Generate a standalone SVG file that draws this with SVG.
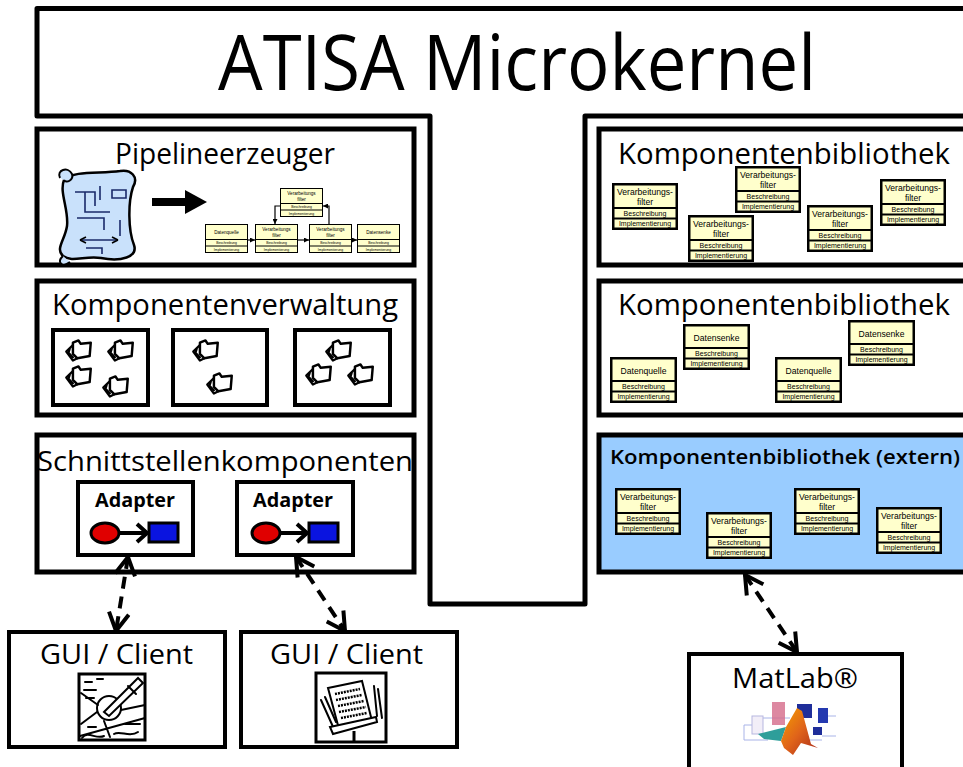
<svg xmlns="http://www.w3.org/2000/svg" xmlns:xlink="http://www.w3.org/1999/xlink" width="963" height="767" viewBox="0 0 963 767">
  <style>
    .frame { fill: none; stroke: #000; stroke-width: 5; stroke-linejoin: round; }
    .box { fill: #fff; stroke: #000; stroke-width: 5; }
    .extern { fill: #99CCFF; stroke: #000; stroke-width: 5; }
    .sub { fill: #fff; stroke: #000; stroke-width: 4; }
    .lbl { font-family: "Open Sans", "Liberation Sans", sans-serif; fill: #000; }
    .bold { font-family: "Open Sans", "Liberation Sans", sans-serif; font-weight: bold; fill: #000; }
    .semi { font-family: "Open Sans", "Liberation Sans", sans-serif; font-weight: 600; fill: #000; }
    .cell { fill: #FFFFCC; }
    .t9 { font-family: "Liberation Sans", Arial, sans-serif; font-size: 8.6px; text-anchor: middle; fill: #000; }
    .t7 { font-family: "Liberation Sans", Arial, sans-serif; font-size: 7px; text-anchor: middle; fill: #000; }
    .t5 { font-family: "Liberation Sans", Arial, sans-serif; font-size: 4.6px; text-anchor: middle; fill: #000; }
    .t4 { font-family: "Liberation Sans", Arial, sans-serif; font-size: 3.4px; text-anchor: middle; fill: #000; }
    .ink { fill: none; stroke: #000; stroke-width: 2; stroke-linecap: round; stroke-linejoin: round; }
    .dash { fill: none; stroke: #000; stroke-width: 4; stroke-dasharray: 12 8; }
    .pline { fill: none; stroke: #000; stroke-width: 1.2; }
  </style>
  <defs>
    <marker id="vhead" viewBox="0 0 24 24" refX="21" refY="12" markerWidth="24" markerHeight="24" markerUnits="userSpaceOnUse" orient="auto-start-reverse">
      <path d="M3,2 L21,12 L3,22" fill="none" stroke="#000" stroke-width="4" stroke-linejoin="miter"/>
    </marker>
    <marker id="mini" viewBox="0 0 6 6" refX="6" refY="3" markerWidth="5" markerHeight="5" markerUnits="userSpaceOnUse" orient="auto">
      <path d="M0,0 L6,3 L0,6 Z" fill="#000"/>
    </marker>
    <!-- processing filter component card -->
    <symbol id="vf" viewBox="0 0 66 47" width="66" height="47" overflow="visible">
      <rect width="66" height="47" fill="#000"/>
      <rect x="2.5" y="2.5" width="61" height="21.5" class="cell"/>
      <rect x="2.5" y="26" width="61" height="8.5" class="cell"/>
      <rect x="2.5" y="36.5" width="61" height="8" class="cell"/>
      <text x="33" y="12" class="t9">Verarbeitungs-</text>
      <text x="33" y="21.5" class="t9">filter</text>
      <text x="33" y="33" class="t7">Beschreibung</text>
      <text x="33" y="43" class="t7">Implementierung</text>
    </symbol>
    <!-- data source card -->
    <symbol id="dq" viewBox="0 0 67 46" width="67" height="46" overflow="visible">
      <rect width="67" height="46" fill="#000"/>
      <rect x="2.5" y="2.5" width="62" height="20.5" class="cell"/>
      <rect x="2.5" y="25" width="62" height="8.5" class="cell"/>
      <rect x="2.5" y="35.5" width="62" height="8" class="cell"/>
      <text x="33.5" y="16.5" class="t9">Datenquelle</text>
      <text x="33.5" y="32" class="t7">Beschreibung</text>
      <text x="33.5" y="42" class="t7">Implementierung</text>
    </symbol>
    <!-- data sink card -->
    <symbol id="ds" viewBox="0 0 67 46" width="67" height="46" overflow="visible">
      <rect width="67" height="46" fill="#000"/>
      <rect x="2.5" y="2.5" width="62" height="20.5" class="cell"/>
      <rect x="2.5" y="25" width="62" height="8.5" class="cell"/>
      <rect x="2.5" y="35.5" width="62" height="8" class="cell"/>
      <text x="33.5" y="16.5" class="t9">Datensenke</text>
      <text x="33.5" y="32" class="t7">Beschreibung</text>
      <text x="33.5" y="42" class="t7">Implementierung</text>
    </symbol>
    <!-- small card frame for the pipeline sketch -->
    <symbol id="pcard" viewBox="0 0 43 29" width="43" height="29" overflow="visible">
      <rect width="43" height="29" fill="#000"/>
      <rect x="1" y="1" width="41" height="14" class="cell"/>
      <rect x="1" y="16" width="41" height="5.5" class="cell"/>
      <rect x="1" y="22.5" width="41" height="5.5" class="cell"/>
      <text x="21.5" y="20" class="t4">Beschreibung</text>
      <text x="21.5" y="26.5" class="t4">Implementierung</text>
    </symbol>
    <!-- component bundle icon -->
    <symbol id="pg" viewBox="0 0 26 22" width="29" height="25" overflow="visible">
      <path d="M8,4 L13,2 L15,5 L24,4 L23,16 L12,18 L8,14 Z" fill="#fff" stroke="#000" stroke-width="2.2" stroke-linejoin="round"/>
      <path d="M8,6 L2,12 L8,20 L12,18" class="ink" stroke-width="2.2"/>
      <path d="M5,10 L4,13 L8,17" class="ink" stroke-width="2.2"/>
    </symbol>
    <linearGradient id="peak" x1="0" y1="0" x2="1" y2="1">
      <stop offset="0" stop-color="#F5A000"/>
      <stop offset="0.5" stop-color="#E0641A"/>
      <stop offset="1" stop-color="#A8281A"/>
    </linearGradient>
  </defs>

  <rect width="963" height="767" fill="#fff"/>

  <!-- microkernel outline -->
  <g id="microkernel">
    <path class="frame" d="M970,8.5 H37 V116 H430 V604 H585 V116 H970"/>
    <text class="lbl" x="218" y="90" font-size="76" textLength="598" lengthAdjust="spacingAndGlyphs">ATISA Microkernel</text>
  </g>

  <!-- pipeline generator -->
  <g id="pipelineerzeuger">
    <rect class="box" x="37" y="129" width="377" height="136"/>
    <text class="lbl" x="115" y="164" font-size="29" textLength="220" lengthAdjust="spacingAndGlyphs">Pipelineerzeuger</text>
    <!-- blueprint scroll -->
    <g>
      <path d="M64,180 C74,170 100,174 120,171 C131,169 139,177 133,187 C128,202 128,230 134,245 C138,257 121,262 101,258 C86,255 72,263 63,256 C55,249 65,240 67,226 C69,210 59,192 64,180 Z" fill="#C9E1FB" stroke="#000" stroke-width="2.5"/>
      <path d="M60,178 C56,170 68,166 72,174 C74,180 66,184 64,180" fill="#C9E1FB" stroke="#000" stroke-width="2"/>
      <path d="M63,256 C56,262 62,268 70,262" fill="#C9E1FB" stroke="#000" stroke-width="2"/>
      <path d="M75,192 H95 V206 M85,192 V212 H110 M100,186 V200 M77,218 H104 V230 M112,190 H126 V198 H112 Z M80,240 H118 M120,220 V236" fill="none" stroke="#1A2A6A" stroke-width="1.6"/>
      <path d="M80,240 L86,237 M80,240 L86,243 M118,240 L112,237 M118,240 L112,243" fill="none" stroke="#000" stroke-width="1.6"/>
      <path d="M86,248 H102 V254" fill="none" stroke="#1A2A6A" stroke-width="1.6"/>
    </g>
    <!-- big arrow -->
    <line x1="152" y1="202" x2="188" y2="202" stroke="#000" stroke-width="8"/>
    <polygon points="185,190 207,202 185,214" fill="#000"/>
    <!-- pipeline sketch -->
    <use href="#pcard" x="280" y="188"/>
    <text class="t5" x="301.5" y="195">Verarbeitungs</text>
    <text class="t5" x="301.5" y="201">filter</text>
    <use href="#pcard" x="205" y="224"/>
    <text class="t5" x="226.5" y="234">Datenquelle</text>
    <use href="#pcard" x="255" y="224"/>
    <text class="t5" x="276.5" y="231">Verarbeitungs</text>
    <text class="t5" x="276.5" y="237">filter</text>
    <use href="#pcard" x="309" y="224"/>
    <text class="t5" x="330.5" y="231">Verarbeitungs</text>
    <text class="t5" x="330.5" y="237">filter</text>
    <use href="#pcard" x="357" y="224"/>
    <text class="t5" x="378.5" y="234">Datensenke</text>
    <line class="pline" x1="247" y1="240" x2="255" y2="240" marker-end="url(#mini)"/>
    <line class="pline" x1="297" y1="240" x2="309" y2="240" marker-end="url(#mini)"/>
    <line class="pline" x1="352" y1="240" x2="357" y2="240" marker-end="url(#mini)"/>
    <path class="pline" d="M329,224 V206 H323" marker-end="url(#mini)"/>
    <path class="pline" d="M280,206 H275 V224" marker-end="url(#mini)"/>
  </g>

  <!-- component management -->
  <g id="komponentenverwaltung">
    <rect class="box" x="37" y="281" width="377" height="134"/>
    <text class="lbl" x="52" y="315" font-size="30" textLength="346" lengthAdjust="spacingAndGlyphs">Komponentenverwaltung</text>
    <rect class="sub" x="53" y="330" width="95" height="75"/>
    <rect class="sub" x="173" y="330" width="94" height="75"/>
    <rect class="sub" x="295" y="330" width="95" height="75"/>
    <use href="#pg" x="64" y="338"/>
    <use href="#pg" x="106" y="338"/>
    <use href="#pg" x="64" y="364"/>
    <use href="#pg" x="101" y="374"/>
    <use href="#pg" x="191" y="338"/>
    <use href="#pg" x="205" y="371"/>
    <use href="#pg" x="324" y="338"/>
    <use href="#pg" x="304" y="362"/>
    <use href="#pg" x="346" y="362"/>
  </g>

  <!-- interface components -->
  <g id="schnittstellenkomponenten">
    <rect class="box" x="37" y="435" width="377" height="137"/>
    <text class="lbl" x="37" y="471" font-size="28" textLength="376" lengthAdjust="spacingAndGlyphs">Schnittstellenkomponenten</text>
  </g>
  <g id="adapter-1">
    <rect class="sub" x="78" y="482" width="115" height="73"/>
    <text class="bold" x="95" y="507" font-size="19" textLength="80" lengthAdjust="spacingAndGlyphs">Adapter</text>
    <ellipse cx="105" cy="533" rx="14" ry="10" fill="#E00000" stroke="#000" stroke-width="3"/>
    <path d="M120,533 H147 M137,524 L147,533 L137,542" fill="none" stroke="#000" stroke-width="4"/>
    <rect x="149" y="523" width="29" height="19" fill="#0A14E0" stroke="#000" stroke-width="3"/>
  </g>
  <g id="adapter-2">
    <rect class="sub" x="237" y="482" width="116" height="73"/>
    <text class="bold" x="253" y="507" font-size="19" textLength="80" lengthAdjust="spacingAndGlyphs">Adapter</text>
    <ellipse cx="266" cy="533" rx="14" ry="10" fill="#E00000" stroke="#000" stroke-width="3"/>
    <path d="M281,533 H307 M297,524 L307,533 L297,542" fill="none" stroke="#000" stroke-width="4"/>
    <rect x="309" y="523" width="29" height="19" fill="#0A14E0" stroke="#000" stroke-width="3"/>
  </g>

  <!-- component library: processing filters -->
  <g id="bibliothek-filter">
    <rect class="box" x="599" y="129" width="380" height="136"/>
    <text class="lbl" x="618" y="164" font-size="30" textLength="332" lengthAdjust="spacingAndGlyphs">Komponentenbibliothek</text>
    <use href="#vf" x="612" y="183"/>
    <use href="#vf" x="735" y="166"/>
    <use href="#vf" x="688" y="215"/>
    <use href="#vf" x="807" y="205"/>
    <use href="#vf" x="880" y="179"/>
  </g>

  <!-- component library: sources and sinks -->
  <g id="bibliothek-daten">
    <rect class="box" x="599" y="281" width="380" height="134"/>
    <text class="lbl" x="618" y="315" font-size="30" textLength="332" lengthAdjust="spacingAndGlyphs">Komponentenbibliothek</text>
    <use href="#dq" x="610" y="357"/>
    <use href="#ds" x="683" y="324"/>
    <use href="#dq" x="775" y="357"/>
    <use href="#ds" x="848" y="320"/>
  </g>

  <!-- external component library -->
  <g id="bibliothek-extern">
    <rect class="extern" x="599" y="435" width="380" height="137"/>
    <text class="semi" x="610" y="464" font-size="20" textLength="350" lengthAdjust="spacingAndGlyphs">Komponentenbibliothek (extern)</text>
    <use href="#vf" x="615" y="488"/>
    <use href="#vf" x="706" y="512"/>
    <use href="#vf" x="794" y="488"/>
    <use href="#vf" x="876" y="507"/>
  </g>

  <!-- clients -->
  <g id="gui-client-1">
    <rect class="sub" x="9" y="632" width="216" height="115"/>
    <text class="lbl" x="40" y="664" font-size="27" textLength="153" lengthAdjust="spacingAndGlyphs">GUI / Client</text>
    <rect x="79" y="674" width="66" height="66" fill="#fff" stroke="#000" stroke-width="3"/>
    <path d="M85,682 H92 M97,679 H103 M84,690 H96 M86,698 H94" class="ink"/>
    <circle cx="109" cy="708" r="12" fill="#fff" stroke="#000" stroke-width="2"/>
    <path d="M81,693 L98,705 M81,724 L97,712 M121,710 L145,705 M80,736 L145,718 M104,721 L110,737" class="ink"/>
    <path d="M104,712 L138,678 L143,683 L109,716 Z" fill="#fff" stroke="#000" stroke-width="2"/>
    <path d="M128,686 L136,694" class="ink"/>
    <path d="M82,738 C88,730 96,740 104,736 M114,734 C120,730 130,738 138,732 M125,724 H140 M88,727 H96" class="ink" stroke-width="3"/>
  </g>
  <g id="gui-client-2">
    <rect class="sub" x="241" y="632" width="216" height="115"/>
    <text class="lbl" x="270" y="664" font-size="27" textLength="153" lengthAdjust="spacingAndGlyphs">GUI / Client</text>
    <rect x="316" y="673" width="70" height="69" fill="#fff" stroke="#000" stroke-width="3"/>
    <path d="M321,700 L334,729 M325,697 L336,722 M378,689 L382,718 M374,686 L377,716" class="ink" stroke-width="1.5"/>
    <polygon points="328,688 362,681 372,721 339,729" fill="#fff" stroke="#000" stroke-width="2"/>
    <path d="M335,694 L360,689 M336,700 L362,695 M338,706 L364,701 M339,712 L366,707 M341,718 L367,713" stroke="#000" stroke-width="2.5" stroke-dasharray="2 1"/>
    <polygon points="330,727 376,717 377,722 333,734" fill="#fff" stroke="#000" stroke-width="2"/>
    <path d="M354,731 V742" stroke="#000" stroke-width="3"/>
  </g>
  <g id="matlab">
    <rect class="sub" x="689" y="654" width="213" height="125"/>
    <text class="lbl" x="732" y="688" font-size="28" textLength="126" lengthAdjust="spacingAndGlyphs">MatLab®</text>
    <path d="M752,725 H744 V740 H768 M762,718 H790 M828,716 H836 M822,736 H836 M806,740 H822" fill="none" stroke="#A9B4E8" stroke-width="1"/>
    <rect x="752" y="716" width="11" height="18" fill="#F2EEF8" stroke="#B7B7E0" stroke-width="1"/>
    <rect x="772" y="702" width="13" height="23" fill="#D46A8A" opacity="0.8"/>
    <rect x="797" y="704" width="15" height="14" fill="#1F2E9A"/>
    <rect x="818" y="708" width="10" height="15" fill="#2439B0"/>
    <rect x="813" y="727" width="9" height="8" fill="#1F2E9A"/>
    <polygon points="758,734 786,727 781,741 764,739" fill="#2E9E9A"/>
    <polygon points="781,741 786,727 797,708 802,711 811,744 818,748 801,743 793,755 784,748" fill="url(#peak)"/>
  </g>

  <!-- connectors -->
  <g id="connectors">
    <line class="dash" x1="128" y1="557" x2="116" y2="631" marker-start="url(#vhead)" marker-end="url(#vhead)"/>
    <line class="dash" x1="296" y1="557" x2="345" y2="631" marker-start="url(#vhead)" marker-end="url(#vhead)"/>
    <line class="dash" x1="745" y1="575" x2="797" y2="652" marker-start="url(#vhead)" marker-end="url(#vhead)"/>
  </g>
</svg>
